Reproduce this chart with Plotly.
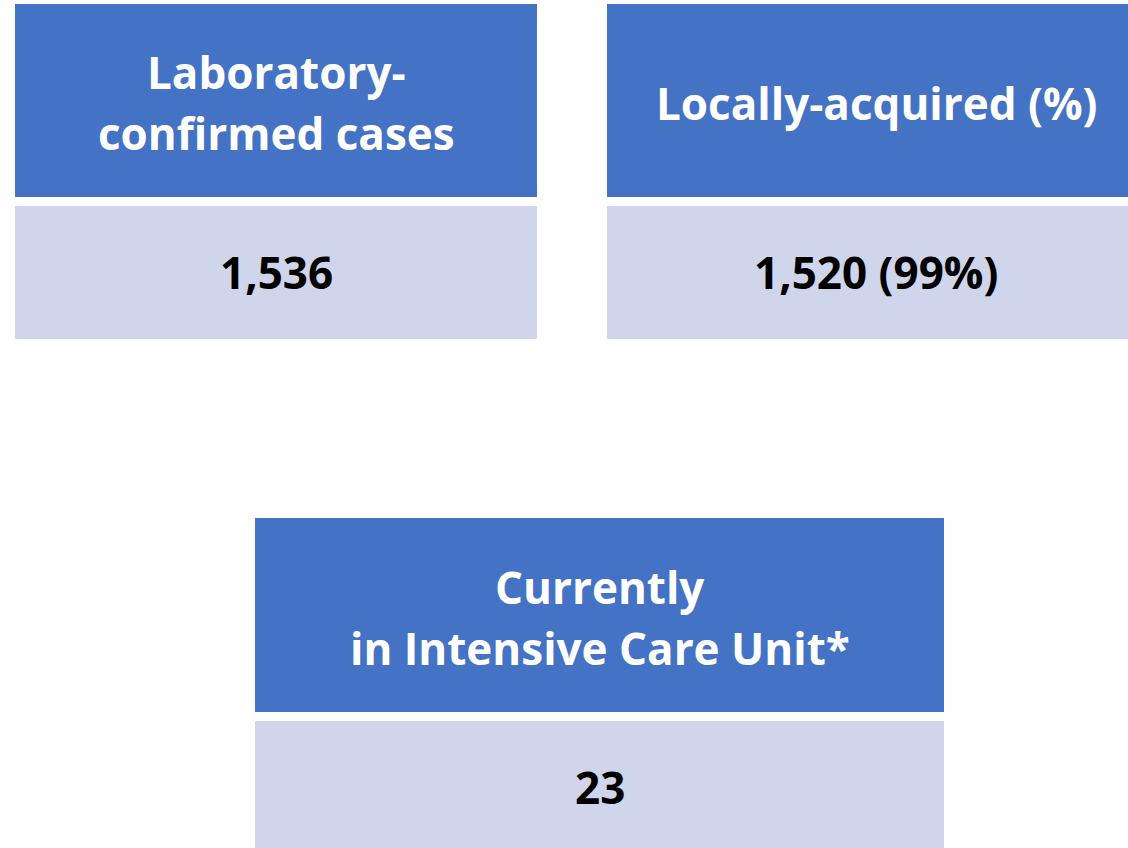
import plotly.graph_objects as go

# Data
titles = [["Laboratory-", "confirmed cases"], ["Locally-acquired (%)"], ["Currently", "in Intensive Care Unit*"]]
values = ["1,536", "1,520 (99%)", "23"]

# Layout geometry (pixels)
W, H = 1128, 848
cards = [  # x0, x1, header y0, header y1, body y0, body y1
    (15, 537, 4, 197, 206, 339),
    (607, 1145, 4, 197, 206, 339),
    (255, 944, 518, 712, 721, 854),
]
header_col = "#4472C4"
body_col = "#CFD5EA"
FONT = "Open Sans"
FS = 44
LINE = 61

fig = go.Figure()
shapes = []
annotations = []
for (x0, x1, hy0, hy1, by0, by1), lines, v in zip(cards, titles, values):
    shapes.append(dict(type="rect", x0=x0, x1=x1, y0=hy0, y1=hy1, fillcolor=header_col,
                       line=dict(width=0), layer="below"))
    shapes.append(dict(type="rect", x0=x0, x1=x1, y0=by0, y1=by1, fillcolor=body_col,
                       line=dict(width=0), layer="below"))
    cx = (x0 + x1) / 2
    cy = (hy0 + hy1) / 2 + 2
    n = len(lines)
    for i, ln in enumerate(lines):
        y = cy + (i - (n - 1) / 2) * LINE
        annotations.append(dict(x=cx, y=y, text="<b>" + ln + "</b>",
                                showarrow=False, xanchor="center", yanchor="middle",
                                font=dict(family=FONT, size=FS, color="white")))
    annotations.append(dict(x=cx, y=(by0 + by1) / 2 - 1, text="<b>" + v + "</b>",
                            showarrow=False, xanchor="center", yanchor="middle",
                            font=dict(family=FONT, size=FS, color="black")))

fig.update_layout(
    width=W, height=H, margin=dict(l=0, r=0, t=0, b=0),
    paper_bgcolor="white", plot_bgcolor="white",
    xaxis=dict(range=[0, W], visible=False, fixedrange=True),
    yaxis=dict(range=[H, 0], visible=False, fixedrange=True),
    shapes=shapes, annotations=annotations, showlegend=False,
)
fig.write_html("out.html", config={"displayModeBar": False},
               post_script="document.body.style.margin='0';document.body.style.overflow='hidden';")
